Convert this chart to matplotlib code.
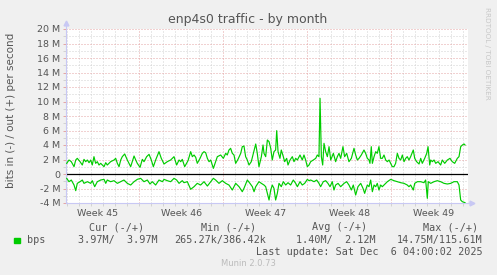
import matplotlib
matplotlib.use("Agg")
import matplotlib.pyplot as plt
from matplotlib.patches import Rectangle
from matplotlib.ticker import FuncFormatter, MultipleLocator
import numpy as np

# time in days from the left edge of the graph, values in Mbit/s
t_out = [0.06, 0.25, 0.44, 0.67, 0.81, 0.94, 1.17, 1.36, 1.50, 1.64, 1.78, 1.92, 2.06, 2.19, 2.33,
         2.47, 2.61, 2.75, 2.89, 3.17, 3.31, 3.44, 3.72, 4.00, 4.14, 4.28, 4.42, 4.56, 4.69, 4.89,
         5.11, 5.25, 5.39, 5.67, 5.81, 5.94, 6.17, 6.36, 6.50, 6.72, 6.92, 7.11, 7.28, 7.47, 7.75,
         7.94, 8.17, 8.44, 8.72, 9.00, 9.22, 9.42, 9.56, 9.69, 9.89, 10.17, 10.39, 10.53, 10.67,
         10.81, 10.94, 11.17, 11.36, 11.50, 11.64, 11.78, 11.92, 12.06, 12.28, 12.47, 12.61, 12.89,
         13.11, 13.31, 13.44, 13.58, 13.72, 13.86, 14.00, 14.14, 14.33, 14.56, 14.69, 14.83, 14.97,
         15.11, 15.25, 15.44, 15.61, 15.81, 15.94, 16.08, 16.28, 16.42, 16.50, 16.64, 16.78, 16.92,
         17.06, 17.19, 17.33, 17.47, 17.56, 17.67, 17.83, 17.94, 18.11, 18.22, 18.39, 18.50, 18.67,
         18.86, 19.00, 19.14, 19.28, 19.50, 19.69, 19.83, 19.97, 20.11, 20.25, 20.39, 20.61, 20.81,
         20.94, 21.08, 21.17, 21.28, 21.39, 21.50, 21.64, 21.78, 21.92, 22.06, 22.28, 22.47, 22.61,
         22.75, 22.89, 23.08, 23.22, 23.39, 23.58, 23.78, 24.00, 24.14, 24.28, 24.42, 24.61, 24.83,
         24.97, 25.11, 25.25, 25.33, 25.44, 25.53, 25.67, 25.81, 25.94, 26.08, 26.22, 26.36, 26.50,
         26.64, 26.78, 26.92, 27.06, 27.19, 27.33, 27.47, 27.61, 27.75, 27.89, 28.03, 28.17, 28.31,
         28.44, 28.58, 28.72, 28.94, 29.06, 29.22, 29.42, 29.56, 29.69, 29.89, 30.06, 30.17, 30.31,
         30.39, 30.53, 30.67, 30.81, 31.00, 31.22, 31.36, 31.56, 31.78, 32.00, 32.19, 32.39, 32.61,
         32.75, 32.89, 33.03, 33.17, 33.25]
v_out = [1.47, 1.93, 1.70, 1.01, 1.93, 2.16, 1.70, 1.24, 2.02, 1.70, 1.93, 1.56, 1.93, 1.24, 2.39,
         1.47, 1.70, 1.24, 1.47, 1.01, 1.56, 1.24, 1.70, 1.93, 2.16, 1.47, 1.01, 1.93, 2.39, 2.76,
         1.93, 1.47, 1.01, 2.48, 1.93, 1.47, 0.92, 2.02, 1.70, 2.39, 2.71, 1.93, 1.01, 1.93, 3.08,
         2.16, 1.38, 1.70, 1.93, 2.39, 1.24, 1.93, 1.70, 2.02, 1.01, 1.84, 3.08, 2.39, 2.62,
         2.30, 1.47, 2.16, 2.85, 3.08, 2.94, 2.16, 1.70, 1.93, 0.78, 1.70, 2.39, 2.62,
         2.16, 2.85, 2.62, 3.31, 3.54, 2.85, 2.62, 1.47, 2.02, 2.85, 3.77, 3.86, 2.39,
         1.93, 1.24, 1.70, 2.85, 4.14, 2.85, 1.01, 2.39, 4.00, 2.85, 2.39, 4.69, 4.46,
         3.54, 1.93, 3.08, 3.31, 5.98, 3.08, 2.16, 3.31, 2.39, 1.70, 2.16, 1.24, 1.93,
         2.39, 1.70, 2.16, 1.93, 2.62, 1.93, 2.62, 1.93, 1.01, 1.24, 1.70, 1.93, 2.16,
         2.62, 2.39, 10.44, 2.39, 1.24, 4.23, 3.08, 2.39, 3.77, 1.93, 2.85, 1.70, 2.39,
         2.85, 2.16, 3.77, 2.39, 2.85, 1.70, 2.16, 3.54, 2.62, 1.93, 2.16, 2.62, 3.31,
         2.85, 2.16, 1.93, 1.47, 3.77, 1.47, 2.39, 3.08, 2.85, 3.77, 2.16, 2.16, 2.62,
         1.93, 1.70, 1.93, 1.47, 1.01, 1.01, 1.47, 2.85, 2.16, 1.93, 2.62, 1.70, 2.16,
         2.39, 1.93, 2.39, 3.31, 2.16, 1.70, 1.38, 2.16, 1.47, 2.16, 2.85, 3.77, 1.24,
         1.93, 1.70, 1.93, 1.47, 1.70, 1.24, 1.93, 1.47, 1.93, 2.16, 1.70, 1.47, 2.16,
         2.39, 3.77, 4.00, 4.14, 4.00]

t_in = [0.06, 0.25, 0.44, 0.67, 0.81, 0.94, 1.17, 1.36, 1.50, 1.78, 2.06, 2.19, 2.39, 2.61, 2.89,
        3.17, 3.31, 3.44, 3.72, 4.00, 4.28, 4.56, 4.83, 5.11, 5.39, 5.67, 5.94, 6.22, 6.50, 6.78,
        7.00, 7.19, 7.47, 7.75, 8.03, 8.17, 8.44, 8.72, 9.00, 9.22, 9.42, 9.69, 9.83, 10.11, 10.39,
        10.67, 10.94, 11.22, 11.50, 11.78, 12.06, 12.28, 12.47, 12.75, 13.03, 13.31, 13.58, 13.86,
        14.14, 14.42, 14.69, 14.83, 15.11, 15.33, 15.53, 15.67, 15.81, 16.08, 16.28, 16.50, 16.64,
        16.78, 16.92, 17.06, 17.19, 17.33, 17.47, 17.61, 17.75, 17.94, 18.11, 18.31, 18.50, 18.72,
        18.94, 19.14, 19.28, 19.50, 19.69, 19.89, 20.11, 20.25, 20.39, 20.67, 20.89, 21.08, 21.22,
        21.44, 21.64, 21.83, 22.00, 22.19, 22.33, 22.47, 22.67, 22.89, 23.17, 23.39, 23.58, 23.78,
        23.94, 24.14, 24.33, 24.56, 24.75, 24.89, 24.97, 25.11, 25.25, 25.39, 25.53, 25.67, 25.81,
        25.94, 26.08, 26.22, 26.36, 26.50, 26.64, 26.78, 27.06, 27.19, 27.33, 27.61, 27.89, 28.17,
        28.44, 28.58, 28.72, 28.94, 29.06, 29.28, 29.56, 29.83, 29.97, 30.11, 30.19, 30.39, 30.67,
        30.94, 31.22, 31.50, 31.78, 32.06, 32.33, 32.61, 32.75, 32.89, 33.03, 33.25]
v_in = [-0.60, -1.06, -0.83, -1.52, -2.30, -1.29, -1.06, -0.83, -1.29, -1.06, -1.29, -0.92, -1.75,
        -1.06, -0.83, -0.74, -1.29, -0.83, -1.06, -0.92, -1.29, -1.06, -0.83, -1.29, -1.52, -1.06,
        -0.74, -0.60, -1.06, -0.83, -1.38, -1.06, -1.52, -0.83, -1.06, -0.74, -0.92, -1.06, -0.60,
        -0.83, -1.29, -0.92, -1.20, -1.06, -2.11, -1.75, -1.29, -1.52, -1.06, -1.66, -1.06, -0.60,
        -0.83, -1.29, -0.92, -1.29, -1.52, -2.21, -1.29, -1.75, -2.44, -1.98, -0.83, -1.29, -1.75,
        -2.44, -1.75, -1.06, -1.29, -1.52, -1.75, -2.67, -3.59, -2.21, -1.52, -1.98, -3.59, -2.67,
        -1.29, -1.75, -1.06, -1.52, -1.20, -1.52, -0.83, -1.29, -1.75, -1.06, -1.52, -1.29, -0.74,
        -0.92, -0.83, -1.06, -0.83, -1.29, -1.75, -1.06, -0.92, -1.29, -1.75, -1.06, -2.21, -1.52,
        -1.29, -1.75, -1.29, -1.06, -1.52, -2.21, -1.52, -2.90, -1.75, -1.29, -1.98, -2.67, -2.21,
        -1.52, -1.75, -0.83, -2.44, -1.52, -1.75, -1.29, -2.21, -1.52, -1.75, -1.52, -1.29, -1.06,
        -0.74, -0.83, -0.92, -1.06, -1.20, -1.29, -1.52, -1.75, -1.52, -2.21, -1.29, -1.06, -1.06,
        -1.20, -0.83, -3.36, -1.06, -1.29, -1.06, -0.92, -1.06, -1.29, -1.38, -1.29, -1.06, -1.06,
        -1.52, -3.59, -3.82, -3.95]

week_labels = ["Week 45", "Week 46", "Week 47", "Week 48", "Week 49"]
week_label_pos = [2.6, 9.6, 16.6, 23.6, 30.6]
week_starts = [6.1, 13.1, 20.1, 27.1]

legend_head = ["Cur (-/+)", "Min (-/+)", "Avg (-/+)", "Max (-/+)"]
legend_vals = ["3.97M/  3.97M", "265.27k/386.42k", "1.40M/  2.12M", "14.75M/115.61M"]

W, H = 497, 275
fig = plt.figure(figsize=(W / 100, H / 100), dpi=100, facecolor="#F0F0F0")
ax = fig.add_axes([66 / W, 1 - 203 / H, (468 - 66) / W, (203 - 29) / H])
ax.set_facecolor("white")

ax.set_xlim(0, 33.5)
ax.set_ylim(-4, 20)

grid_minor = "#D2D2D2"
grid_major = "#E4A4A4"
dot = (0, (1, 2))
for d in np.arange(0.1, 33.5, 1.0):
    if round(d, 1) not in week_starts:
        ax.axvline(d, color=grid_minor, lw=0.72, ls=dot, zorder=1)
for d in week_starts:
    ax.axvline(d, color=grid_major, lw=0.72, ls=dot, zorder=1)
for v in range(-3, 21):
    ax.axhline(v, color=grid_major if v % 2 == 0 else grid_minor, lw=0.72, ls=dot, zorder=1)

ax.axhline(0, color="black", lw=0.9, zorder=2)
ax.plot(t_out, v_out, color="#00CC00", lw=0.85, zorder=3, clip_on=True)
ax.plot(t_in, v_in, color="#00CC00", lw=0.85, zorder=3, clip_on=True)

axis_col = "#C8C8F4"
for s in ["top", "right"]:
    ax.spines[s].set_visible(False)
for s in ["left", "bottom"]:
    ax.spines[s].set_color(axis_col)
    ax.spines[s].set_linewidth(0.8)
ax.plot([1.0, 1.01], [0, 0], color=axis_col, lw=0.8, transform=ax.transAxes, clip_on=False)
ax.plot([0, 0], [1.0, 1.03], color=axis_col, lw=0.8, transform=ax.transAxes, clip_on=False)
ax.plot([0], [1.035], marker="^", ms=3.5, color=axis_col, transform=ax.transAxes, clip_on=False)
ax.plot([1.01], [0], marker=">", ms=3.5, color=axis_col, transform=ax.transAxes, clip_on=False)

ax.yaxis.set_major_locator(MultipleLocator(2))
ax.yaxis.set_minor_locator(MultipleLocator(1))
ax.yaxis.set_major_formatter(FuncFormatter(lambda v, p: "0" if v == 0 else "%d M" % v))
ax.tick_params(axis="y", which="major", length=2, width=0.7, color=grid_major, pad=2.3,
               labelsize=6.8, labelcolor="#555555")
ax.tick_params(axis="y", which="minor", length=2, width=0.7, color=grid_minor)

ax.set_xticks(week_label_pos)
ax.set_xticklabels(week_labels)
ax.set_xticks(np.arange(0.1, 33.5, 1.0), minor=True)
ax.tick_params(axis="x", which="major", length=0, pad=4, labelsize=6.8, labelcolor="#555555")
ax.tick_params(axis="x", which="minor", length=2, width=0.7, color=grid_minor)

fig.text(248 / W, 1 - 19 / H, "enp4s0 traffic - by month", ha="center", va="center",
         fontsize=9, color="#555555")
fig.text(11 / W, 1 - 110 / H, "bits in (-) / out (+) per second", rotation=90,
         ha="center", va="center", fontsize=7.5, color="#555555")
fig.text(487 / W, 1 - 53 / H, "RRDTOOL / TOBI OETIKER", rotation=-90, ha="center",
         va="center", fontsize=5.2, color="#C8C8C8")

mono = dict(family="DejaVu Sans Mono", fontsize=7.3, color="#555555", va="center")
head_x = [89, 201, 312, 423]
val_x = [78, 174, 296, 397]
for x, s in zip(head_x, legend_head):
    fig.text(x / W, 1 - 227 / H, s, ha="left", **mono)
fig.patches.append(Rectangle((14 / W, 1 - 243 / H), 5.5 / W, 5.5 / H, color="#00CC00",
                             transform=fig.transFigure))
fig.text(26.7 / W, 1 - 240 / H, "bps", ha="left", **mono)
for x, s in zip(val_x, legend_vals):
    fig.text(x / W, 1 - 240 / H, s, ha="left", **mono)
fig.text(483 / W, 1 - 252 / H, "Last update: Sat Dec  6 04:00:02 2025", ha="right", **mono)
fig.text(248 / W, 1 - 263 / H, "Munin 2.0.73", ha="center", va="center", fontsize=6,
         color="#BBBBBB")

fig.savefig("out.png", dpi=100, facecolor=fig.get_facecolor())
